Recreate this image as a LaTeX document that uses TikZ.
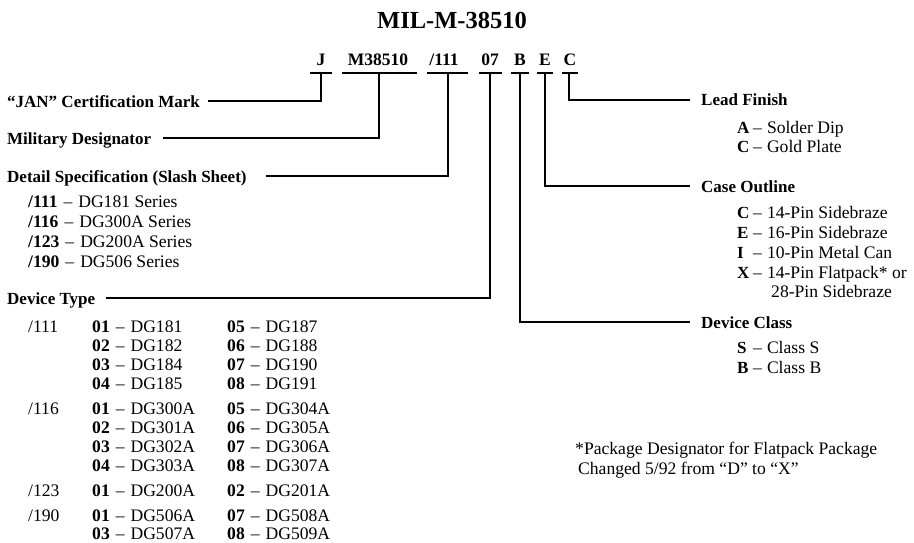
\documentclass[tikz,border=0pt]{standalone}
\usepackage{fontspec}
\setmainfont{Liberation Serif}
\usetikzlibrary{calc}
\newcommand{\dsh}{\hspace{6pt}--\hspace{6pt}}
\begin{document}
\begin{tikzpicture}[x=1pt,y=-1pt,
  txt/.style={anchor=base west, inner sep=0pt, font=\fontsize{17.6}{20}\selectfont},
  btxt/.style={txt, font=\fontsize{17}{20}\selectfont\bfseries},
  code/.style={anchor=base, inner sep=0pt, font=\fontsize{17.5}{20}\selectfont\bfseries},
  conn/.style={line width=2.2pt},
  bar/.style={line width=2.6pt}]
\useasboundingbox (0,0) rectangle (914,543);

% title
\node[anchor=base, inner sep=0pt, font=\fontsize{24.5}{28}\selectfont\bfseries] (title) at (452,29) {MIL-M-38510};

% code letters
\node[code] (cJ) at (321,66) {J};
\node[code] (cM) at (378,66) {M38510};
\node[code] (cS) at (444,66) {/111};
\node[code] (cD) at (490,66) {07};
\node[code] (cB) at (520,66) {B};
\node[code] (cE) at (545,66) {E};
\node[code] (cC) at (570,66) {C};

% bar centres
\coordinate (bJ) at (321,73);
\coordinate (bM) at (379,73);
\coordinate (bS) at (448,73);
\coordinate (bD) at (490,73);
\coordinate (bB) at (520,73);
\coordinate (bE) at (545,73);
\coordinate (bC) at (569,73);
\draw[bar] ($(bJ)+(-11,0)$) -- ($(bJ)+(11,0)$);
\draw[bar] ($(bM)+(-37,0)$) -- ($(bM)+(38,0)$);
\draw[bar] ($(bS)+(-21,0)$) -- ($(bS)+(20,0)$);
\draw[bar] ($(bD)+(-11,0)$) -- ($(bD)+(12,0)$);
\draw[bar] ($(bB)+(-9,0)$) -- ($(bB)+(9,0)$);
\draw[bar] ($(bE)+(-8,0)$) -- ($(bE)+(8,0)$);
\draw[bar] ($(bC)+(-7,0)$) -- ($(bC)+(9,0)$);

% left labels
\node[btxt] (jan) at (7,107) {``JAN'' Certification Mark};
\node[btxt] (mil) at (7,144) {Military Designator};
\node[btxt] (det) at (7,182) {Detail Specification (Slash Sheet)};
\node[txt] (s1) at (28,207) {\textbf{/111}\dsh DG181 Series};
\node[txt] (s2) at (28,227) {\textbf{/116}\dsh DG300A Series};
\node[txt] (s3) at (28,247) {\textbf{/123}\dsh DG200A Series};
\node[txt] (s4) at (28,267) {\textbf{/190}\dsh DG506 Series};
\node[btxt] (dev) at (7,304) {Device Type};

\coordinate (janL) at (208,101);
\coordinate (milL) at (163,138);
\coordinate (detL) at (266,176);
\coordinate (devL) at (106,298);

\draw[conn] (bJ) |- (janL);
\draw[conn] (bM) |- (milL);
\draw[conn] (bS) |- (detL);
\draw[conn] (bD) |- (devL);

% device type table
\node[txt] (g1) at (28,332) {/111};
\node[txt] (t11) at (92,332) {\textbf{01}\dsh DG181};
\node[txt] (t12) at (92,351) {\textbf{02}\dsh DG182};
\node[txt] (t13) at (92,370) {\textbf{03}\dsh DG184};
\node[txt] (t14) at (92,389) {\textbf{04}\dsh DG185};
\node[txt] (t15) at (227,332) {\textbf{05}\dsh DG187};
\node[txt] (t16) at (227,351) {\textbf{06}\dsh DG188};
\node[txt] (t17) at (227,370) {\textbf{07}\dsh DG190};
\node[txt] (t18) at (227,389) {\textbf{08}\dsh DG191};

\node[txt] (g2) at (28,414) {/116};
\node[txt] (t21) at (92,414) {\textbf{01}\dsh DG300A};
\node[txt] (t22) at (92,433) {\textbf{02}\dsh DG301A};
\node[txt] (t23) at (92,452) {\textbf{03}\dsh DG302A};
\node[txt] (t24) at (92,471) {\textbf{04}\dsh DG303A};
\node[txt] (t25) at (227,414) {\textbf{05}\dsh DG304A};
\node[txt] (t26) at (227,433) {\textbf{06}\dsh DG305A};
\node[txt] (t27) at (227,452) {\textbf{07}\dsh DG306A};
\node[txt] (t28) at (227,471) {\textbf{08}\dsh DG307A};

\node[txt] (g3) at (28,496) {/123};
\node[txt] (t31) at (92,496) {\textbf{01}\dsh DG200A};
\node[txt] (t32) at (227,496) {\textbf{02}\dsh DG201A};

\node[txt] (g4) at (28,521) {/190};
\node[txt] (t41) at (92,521) {\textbf{01}\dsh DG506A};
\node[txt] (t42) at (92,539) {\textbf{03}\dsh DG507A};
\node[txt] (t43) at (227,521) {\textbf{07}\dsh DG508A};
\node[txt] (t44) at (227,539) {\textbf{08}\dsh DG509A};

% right labels
\node[btxt] (lead) at (701,106) {Lead Finish};
\node[btxt] (lA) at (737,133) {A};
\node[txt] (lAt) at (753,133) {--\hspace{5pt}Solder Dip};
\node[btxt] (lC) at (737,152) {C};
\node[txt] (lCt) at (753,152) {--\hspace{5pt}Gold Plate};

\node[btxt] (case) at (701,192) {Case Outline};
\node[btxt] (cc) at (737,218) {C};
\node[txt] (cct) at (753,218) {--\hspace{5pt}14-Pin Sidebraze};
\node[btxt] (ce) at (737,238) {E};
\node[txt] (cet) at (753,238) {--\hspace{5pt}16-Pin Sidebraze};
\node[btxt] (ci) at (737,258) {I};
\node[txt] (cit) at (753,258) {--\hspace{5pt}10-Pin Metal Can};
\node[btxt] (cx) at (737,278) {X};
\node[txt] (cxt) at (753,278) {--\hspace{5pt}14-Pin Flatpack* or};
\node[txt] (cx2) at (771,297) {28-Pin Sidebraze};

\node[btxt] (cls) at (701,328) {Device Class};
\node[btxt] (dS) at (737,353) {S};
\node[txt] (dSt) at (753,353) {--\hspace{5pt}Class S};
\node[btxt] (dB) at (737,373) {B};
\node[txt] (dBt) at (753,373) {--\hspace{5pt}Class B};

\coordinate (leadR) at (690,100);
\coordinate (caseR) at (690,186);
\coordinate (clsR) at (690,322);
\draw[conn] (bC) |- (leadR);
\draw[conn] (bE) |- (caseR);
\draw[conn] (bB) |- (clsR);

% footnote
\node[txt] (fn1) at (575,454) {*Package Designator for Flatpack Package};
\node[txt] (fn2) at (578,474) {Changed 5/92 from ``D'' to ``X''};
\end{tikzpicture}
\end{document}
